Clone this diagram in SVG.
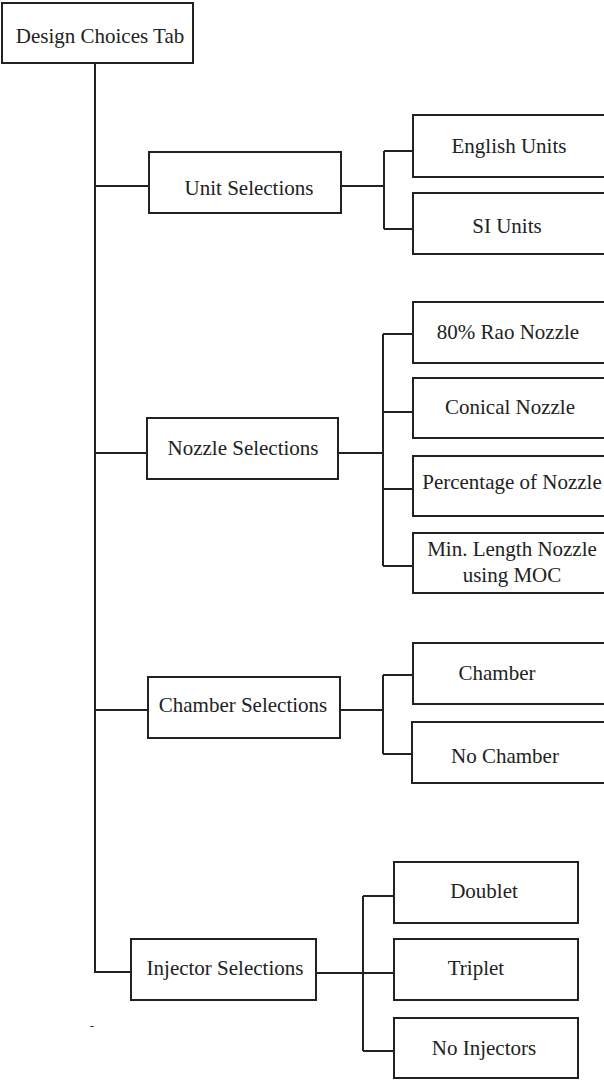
<svg xmlns="http://www.w3.org/2000/svg" width="604" height="1080" viewBox="0 0 604 1080">
<style>
.box{fill:#fff;stroke:#222;stroke-width:2}
.ln{fill:none;stroke:#222;stroke-width:2}
text{font-family:'Liberation Serif','DejaVu Serif',serif;font-size:21px;fill:#222;text-anchor:middle}
</style>
<rect width="604" height="1080" fill="#fff"/>
<g id="connectors">
<path class="ln" d="M95 63 V972 H131"/>
<path class="ln" d="M95 186 H149"/>
<path class="ln" d="M95 453 H147"/>
<path class="ln" d="M95 710 H148"/>
<path class="ln" d="M341 186 H384 M384 151 V229 M384 151 H413 M384 229 H413"/>
<path class="ln" d="M338 453 H383 M383 334 V566 M383 334 H413 M383 412 H413 M383 489 H413 M383 566 H413"/>
<path class="ln" d="M340 710 H383 M383 675 V754 M383 675 H413 M383 754 H412"/>
<path class="ln" d="M316 973 H394 M363 896 V1051 M363 896 H394 M363 1051 H394"/>
</g>
<g id="root"><rect class="box" x="2" y="3" width="191" height="60"/><text x="100" y="43">Design Choices Tab</text></g>
<g id="unit"><rect class="box" x="149" y="152" width="192" height="61"/><text x="249" y="195">Unit Selections</text></g>
<g id="english"><rect class="box" x="413" y="115" width="210" height="62"/><text x="509" y="153">English Units</text></g>
<g id="si"><rect class="box" x="413" y="193" width="210" height="61"/><text x="507" y="233">SI Units</text></g>
<g id="nozzle"><rect class="box" x="147" y="418" width="191" height="61"/><text x="243" y="455">Nozzle Selections</text></g>
<g id="rao"><rect class="box" x="413" y="302" width="210" height="61"/><text x="508" y="339">80% Rao Nozzle</text></g>
<g id="conical"><rect class="box" x="413" y="378" width="210" height="60"/><text x="510" y="414">Conical Nozzle</text></g>
<g id="percentage"><rect class="box" x="413" y="456" width="210" height="60"/><text x="512" y="489">Percentage of Nozzle</text></g>
<g id="minlength"><rect class="box" x="413" y="533" width="210" height="60"/><text x="512" y="556">Min. Length Nozzle</text><text x="512" y="582">using MOC</text></g>
<g id="chambersel"><rect class="box" x="148" y="677" width="192" height="61"/><text x="243" y="712">Chamber Selections</text></g>
<g id="chamber"><rect class="box" x="413" y="643" width="210" height="61"/><text x="497" y="680">Chamber</text></g>
<g id="nochamber"><rect class="box" x="412" y="722" width="211" height="61"/><text x="505" y="763">No Chamber</text></g>
<g id="injector"><rect class="box" x="131" y="939" width="185" height="61"/><text x="225" y="975">Injector Selections</text></g>
<g id="doublet"><rect class="box" x="394" y="862" width="184" height="61"/><text x="484" y="898">Doublet</text></g>
<g id="triplet"><rect class="box" x="394" y="939" width="184" height="61"/><text x="476" y="975">Triplet</text></g>
<g id="noinj"><rect class="box" x="394" y="1018" width="184" height="60"/><text x="484" y="1055">No Injectors</text></g>
<text x="92" y="1030" style="font-size:12px">-</text>
</svg>
